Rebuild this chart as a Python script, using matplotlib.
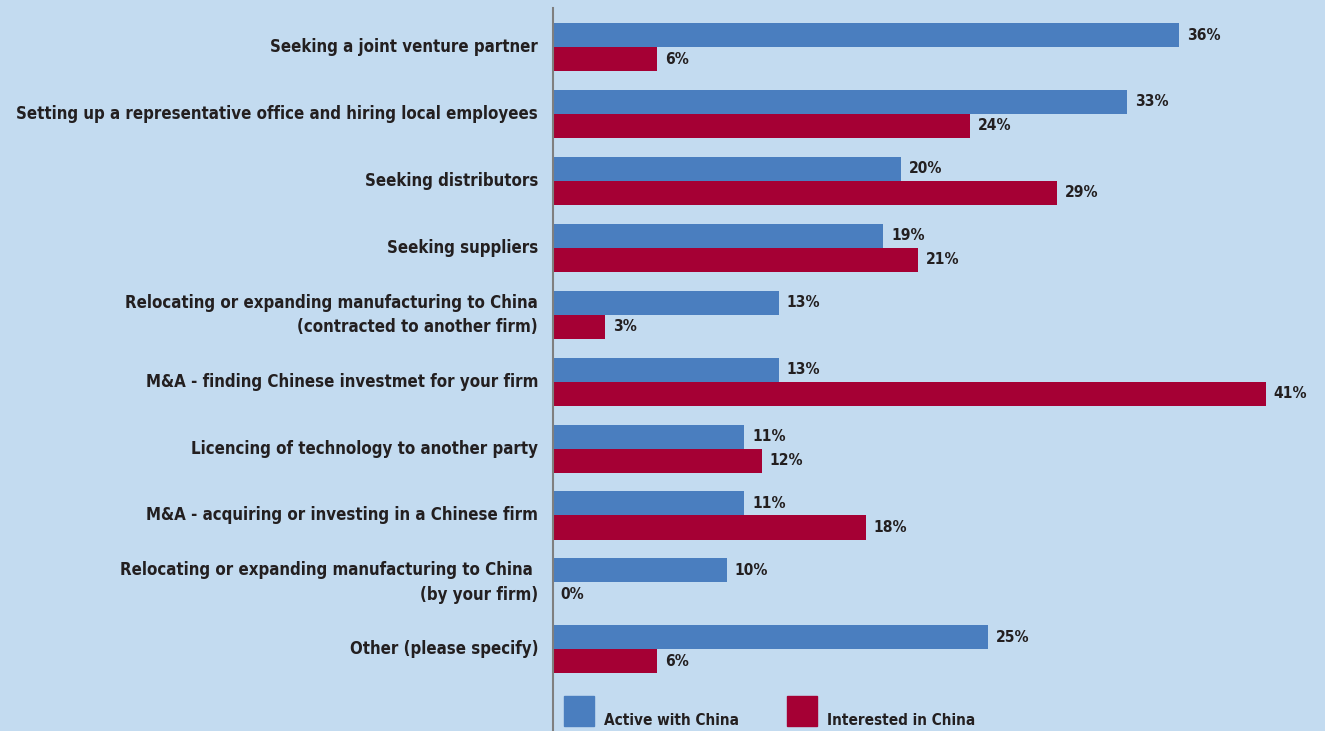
import matplotlib.pyplot as plt
from matplotlib.patches import Rectangle

categories = [
    'Seeking a joint venture partner',
    'Setting up a representative office and hiring local employees',
    'Seeking distributors',
    'Seeking suppliers',
    'Relocating or expanding manufacturing to China\n(contracted to another firm)',
    'M&A - finding Chinese investmet for your firm',
    'Licencing of technology to another party',
    'M&A - acquiring or investing in a Chinese firm',
    'Relocating or expanding manufacturing to China \n(by your firm)',
    'Other (please specify)',
]
active = [36, 33, 20, 19, 13, 13, 11, 11, 10, 25]
interested = [6, 24, 29, 21, 3, 41, 12, 18, 0, 6]
series_names = ['Active with China', 'Interested in China']

BG = '#c3dbf0'
BLUE = '#4a7ebf'
RED = '#a50034'
TXT = '#231f20'

plt.rcParams['font.family'] = ['Liberation Sans Narrow', 'DejaVu Sans']
plt.rcParams['font.weight'] = 'bold'
plt.rcParams['font.stretch'] = 'condensed'

fig = plt.figure(figsize=(13.25, 7.31), dpi=100, facecolor=BG)
ax = fig.add_axes([553 / 1325, 0, 1 - 553 / 1325, 1 - 8 / 731])
ax.set_facecolor(BG)

h = 0.359
ypos = list(range(len(categories)))
ax.barh([y - h / 2 for y in ypos], active, height=h, color=BLUE)
ax.barh([y + h / 2 for y in ypos], interested, height=h, color=RED)

for y, a, i in zip(ypos, active, interested):
    ax.text(a + 0.45, y - h / 2, f'{a}%', va='center', ha='left',
            fontsize=11.2, color=TXT, fontweight='bold')
    ax.text(i + 0.45, y + h / 2, f'{i}%', va='center', ha='left',
            fontsize=11.2, color=TXT, fontweight='bold')

ax.set_xlim(0, 44.4)
ax.set_ylim(10.22, -0.583)
ax.set_yticks(ypos)
ax.set_yticklabels(categories, fontsize=12.1, color=TXT, fontweight='bold',
                   linespacing=1.45, va='center')
ax.tick_params(axis='y', length=0, pad=10.8)
ax.set_xticks([])
for s in ['top', 'right', 'bottom']:
    ax.spines[s].set_visible(False)
ax.spines['left'].set_color('#7f7f7f')
ax.spines['left'].set_linewidth(1.5)

# legend squares and labels along the bottom
for x0, col, name in [(564, BLUE, series_names[0]), (787, RED, series_names[1])]:
    fig.patches.append(Rectangle((x0 / 1325, 5 / 731), 30 / 1325, 30 / 731,
                                 transform=fig.transFigure, color=col))
    fig.text((x0 + 40) / 1325, 6 / 731, name, ha='left', va='baseline',
             fontsize=11, color=TXT, fontweight='bold')

fig.savefig('out.png', dpi=100, facecolor=BG)
